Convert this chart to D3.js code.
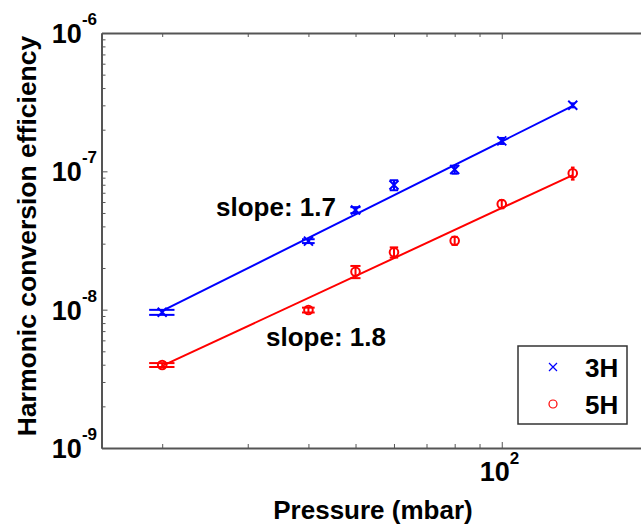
<!DOCTYPE html>
<html>
<head>
<meta charset="utf-8">
<script src="https://cdn.jsdelivr.net/npm/d3@7"></script>
<style>
  body { margin: 0; background: #fff; }
  #container { width: 641px; height: 532px; overflow: hidden; }
  text { font-family: "Liberation Sans", Arial, sans-serif; font-weight: bold; fill: #000; }
</style>
</head>
<body>
<div id="container"></div>
<script>
// Data
const pressure = [20, 40, 50, 60, 80, 100, 140];
const eff3H = [9.57e-9, 3.13e-8, 5.25e-8, 7.96e-8, 1.03e-7, 1.66e-7, 3.0e-7];
const err3H = [4e-10, 1.0e-9, 2.6e-9, 6.6e-9, 6.9e-9, 8.3e-9, 1.0e-8];
const eff5H = [3.98e-9, 9.94e-9, 1.88e-8, 2.60e-8, 3.15e-8, 5.80e-8, 9.68e-8];
const err5H = [1.3e-10, 4e-10, 1.9e-9, 2.2e-9, 2.1e-9, 3.9e-9, 9.7e-9];
// fitted power-law lines (end points)
const fitPressure = [20, 140];
const fit3H = [9.8e-9, 2.97e-7];
const fit5H = [3.92e-9, 9.4e-8];
const slopeLabels = ["slope: 1.7", "slope: 1.8"];
const seriesNames = ["3H", "5H"];
const yMajorExp = [-9, -8, -7, -6];
const xMajorExp = [2];

const width = 641, height = 532;
const svg = d3.select("#container").append("svg")
  .attr("width", width)
  .attr("height", height);

const x = d3.scaleLog().domain([15, 200]).range([101.5, 648]);
const y = d3.scaleLog().domain([1e-9, 1e-6]).range([448, 33]);

const axisColor = "#555";
const blue = "#0000ff", red = "#ff0000";

// minor / major ticks
const yTicks = y.ticks();
const xTicks = x.ticks().filter(d => d >= 15 && d <= 200);
const isMajor = d => Math.abs(Math.log10(d) - Math.round(Math.log10(d))) < 1e-6;

function styleAxis(g) {
  g.select(".domain").attr("stroke", axisColor).attr("stroke-width", 2);
  g.selectAll(".tick line").attr("stroke", axisColor).attr("stroke-width", 1);
  g.selectAll(".tick text").remove();
}

// left & right
[["left", x.range()[0]], ["right", x.range()[1]]].forEach(([side, px]) => {
  const ax = side === "left" ? d3.axisLeft(y) : d3.axisRight(y);
  const g = svg.append("g").attr("transform", `translate(${px},0)`)
    .call(ax.tickValues(yTicks).tickSizeOuter(0).tickFormat(""));
  g.selectAll(".tick line").attr("x2", d => (side === "left" ? 1 : -1) * (isMajor(d) ? 6 : 4));
  styleAxis(g);
});
// bottom & top
[["bottom", y.range()[0]], ["top", y.range()[1]]].forEach(([side, py]) => {
  const ax = side === "bottom" ? d3.axisBottom(x) : d3.axisTop(x);
  const g = svg.append("g").attr("transform", `translate(0,${py})`)
    .call(ax.tickValues(xTicks).tickSizeOuter(0).tickFormat(""));
  g.selectAll(".tick line").attr("y2", d => (side === "bottom" ? -1 : 1) * (isMajor(d) ? 6 : 4));
  styleAxis(g);
});

// y tick labels
yMajorExp.forEach(e => {
  const t = svg.append("text")
    .attr("x", 97).attr("y", y(Math.pow(10, e)) + 10)
    .attr("text-anchor", "end")
    .style("font-size", "27px");
  t.append("tspan").text("10");
  t.append("tspan").attr("dy", -18).style("font-size", "17px").text("-" + Math.abs(e));
});
// x tick labels
xMajorExp.forEach(e => {
  const t = svg.append("text")
    .attr("x", x(Math.pow(10, e)) - 22).attr("y", y.range()[0] + 33)
    .style("font-size", "27px");
  t.append("tspan").text("10");
  t.append("tspan").attr("dy", -17).style("font-size", "17px").text(String(e));
});

// axis titles
svg.append("text")
  .attr("x", 373).attr("y", 519)
  .attr("text-anchor", "middle")
  .style("font-size", "26px")
  .text("Pressure (mbar)");
svg.append("text")
  .attr("transform", "translate(36,236) rotate(-90)")
  .attr("text-anchor", "middle")
  .style("font-size", "26.5px")
  .text("Harmonic conversion efficiency");

const line = d3.line().x(d => x(d[0])).y(d => y(d[1]));

// fit lines
svg.append("path").datum(fitPressure.map((p, i) => [p, fit3H[i]]))
  .attr("d", line).attr("fill", "none").attr("stroke", blue).attr("stroke-width", 2);
svg.append("path").datum(fitPressure.map((p, i) => [p, fit5H[i]]))
  .attr("d", line).attr("fill", "none").attr("stroke", red).attr("stroke-width", 2);

// error bars (cap half-width in data units, like MATLAB)
const capHalf = (d3.max(pressure) - d3.min(pressure)) / 100;
function errorBars(vals, errs, color) {
  const g = svg.append("g").attr("stroke", color).attr("stroke-width", 2).attr("fill", "none");
  pressure.forEach((p, i) => {
    const lo = y(vals[i] - errs[i]), hi = y(vals[i] + errs[i]);
    const xl = x(p - capHalf), xr = x(p + capHalf);
    g.append("line").attr("x1", x(p)).attr("x2", x(p)).attr("y1", lo).attr("y2", hi);
    g.append("line").attr("x1", xl).attr("x2", xr).attr("y1", lo).attr("y2", lo);
    g.append("line").attr("x1", xl).attr("x2", xr).attr("y1", hi).attr("y2", hi);
  });
}
errorBars(eff3H, err3H, blue);
errorBars(eff5H, err5H, red);

// markers
svg.append("g").selectAll("path")
  .data(pressure.map((p, i) => [p, eff3H[i]]))
  .enter().append("path")
  .attr("d", d => {
    const cx = x(d[0]), cy = y(d[1]), s = 4.5;
    return `M${cx - s},${cy - s}L${cx + s},${cy + s}M${cx - s},${cy + s}L${cx + s},${cy - s}`;
  })
  .attr("stroke", blue).attr("stroke-width", 2).attr("fill", "none");
svg.append("g").selectAll("circle")
  .data(pressure.map((p, i) => [p, eff5H[i]]))
  .enter().append("circle")
  .attr("cx", d => x(d[0])).attr("cy", d => y(d[1])).attr("r", 4.3)
  .attr("stroke", red).attr("stroke-width", 2).attr("fill", "none");

// slope annotations
svg.append("text").attr("x", 216).attr("y", 216).style("font-size", "26px").text(slopeLabels[0]);
svg.append("text").attr("x", 266).attr("y", 346).style("font-size", "26px").text(slopeLabels[1]);

// legend
const lg = svg.append("g").attr("transform", "translate(518,346)");
lg.append("rect").attr("width", 109).attr("height", 78)
  .attr("fill", "#fff").attr("stroke", "#333").attr("stroke-width", 1.5);
seriesNames.forEach((name, i) => {
  const cy = 21 + i * 37;
  if (i === 0) {
    lg.append("path")
      .attr("d", `M31,${cy - 4}L39,${cy + 4}M31,${cy + 4}L39,${cy - 4}`)
      .attr("stroke", blue).attr("stroke-width", 1.2).attr("fill", "none");
  } else {
    lg.append("circle").attr("cx", 35).attr("cy", cy).attr("r", 4)
      .attr("stroke", red).attr("stroke-width", 1.2).attr("fill", "none");
  }
  lg.append("text").attr("x", 67).attr("y", cy + 10)
    .style("font-size", "26px").text(name);
});
</script>
</body>
</html>
